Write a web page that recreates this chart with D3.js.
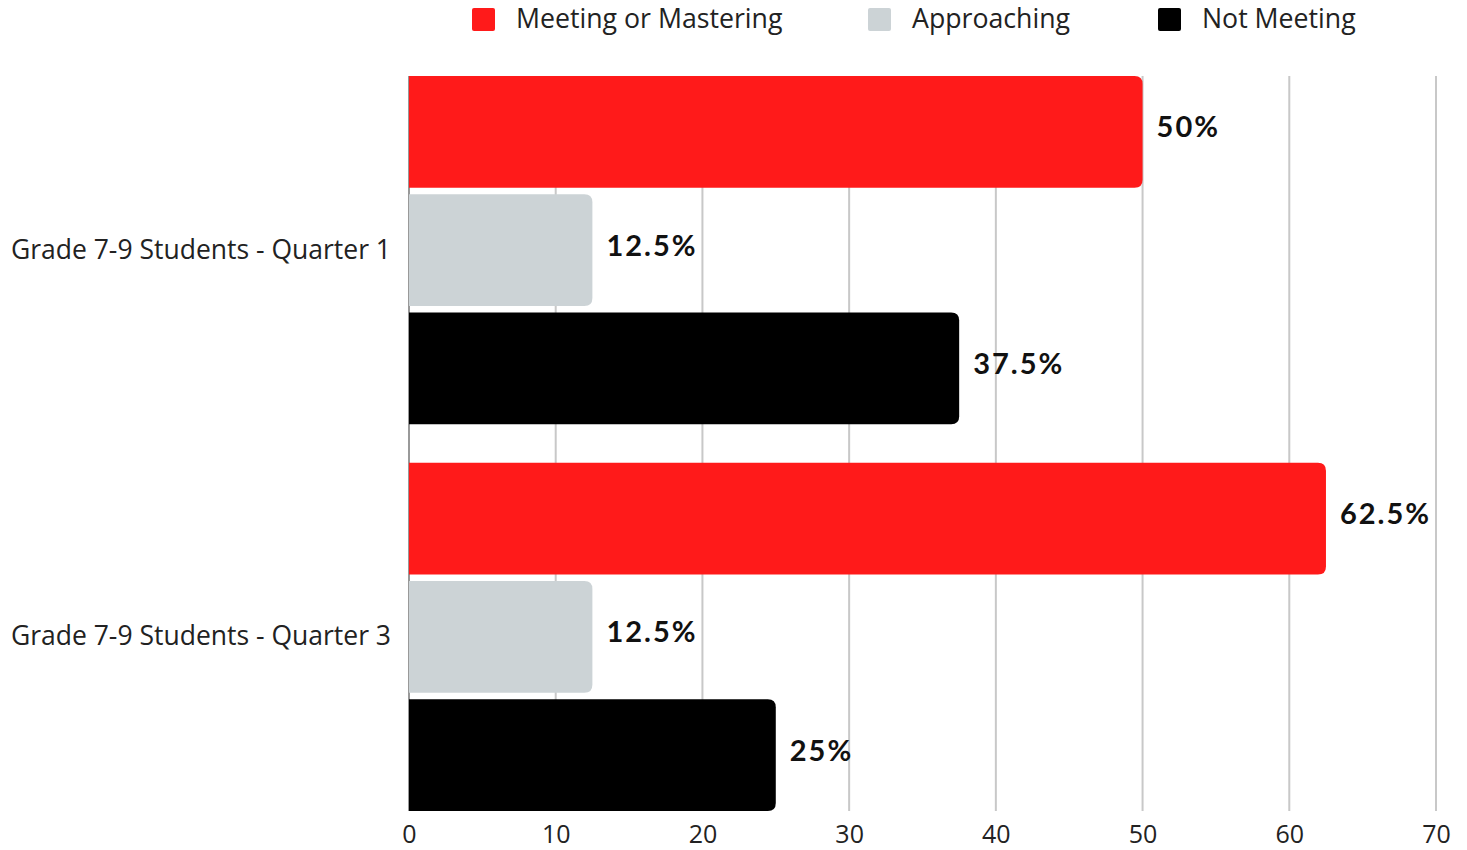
<!DOCTYPE html>
<html>
<head>
<meta charset="utf-8">
<script src="https://cdn.jsdelivr.net/npm/d3@7"></script>
<style>
  body { margin: 0; background: #fff; }
</style>
</head>
<body>
<div class="chart"></div>
<script>
var categories = ["Grade 7-9 Students - Quarter 1", "Grade 7-9 Students - Quarter 3"];
var seriesNames = ["Meeting or Mastering", "Approaching", "Not Meeting"];
var meeting = [50, 62.5];
var approaching = [12.5, 12.5];
var notMeeting = [37.5, 25];
var valueLabels = [["50%", "12.5%", "37.5%"], ["62.5%", "12.5%", "25%"]];
var xTicks = [0, 10, 20, 30, 40, 50, 60, 70];
var colors = ["#ff1a1a", "#ccd3d6", "#000000"];

var width = 1467, height = 850;
var margin = {top: 76, right: 31, bottom: 39, left: 409};
var innerW = width - margin.left - margin.right,
    innerH = height - margin.top - margin.bottom;

var svg = d3.select(".chart").append("svg")
    .attr("width", width).attr("height", height)
    .style("font-family", "'Open Sans', sans-serif");
var g = svg.append("g").attr("transform", "translate(" + margin.left + "," + margin.top + ")");

var x = d3.scaleLinear().domain([0, 70]).range([0, innerW]);
var y0 = d3.scaleBand().domain(categories).range([0, innerH]).paddingInner(0.1).paddingOuter(0);
var y1 = d3.scaleBand().domain(seriesNames).range([0, y0.bandwidth()]).paddingInner(0.055);

var data = categories.map(function(c, i) {
    return {category: c, terms: [
        {id: seriesNames[0], value: meeting[i], label: valueLabels[i][0]},
        {id: seriesNames[1], value: approaching[i], label: valueLabels[i][1]},
        {id: seriesNames[2], value: notMeeting[i], label: valueLabels[i][2]}
    ]};
});
var color = d3.scaleOrdinal().domain(seriesNames).range(colors);

// grid
g.append("g").selectAll("line").data(xTicks).enter().append("line")
    .attr("x1", function(d) { return x(d); }).attr("x2", function(d) { return x(d); })
    .attr("y1", 0).attr("y2", innerH)
    .attr("stroke", function(d) { return d === 0 ? "#999" : "#c8c8c8"; })
    .attr("stroke-width", 2);

// x axis labels
var xAxis = d3.axisBottom(x).tickValues(xTicks).tickSize(0).tickPadding(14);
g.append("g").attr("transform", "translate(0," + innerH + ")").call(xAxis)
    .call(function(s) { s.select(".domain").remove(); })
    .selectAll("text").style("font-size", "25px").style("font-family", "'Open Sans', sans-serif").attr("fill", "#222");

// y labels
var yAxis = d3.axisLeft(y0).tickSize(0).tickPadding(18);
g.append("g").call(yAxis)
    .call(function(s) { s.select(".domain").remove(); })
    .selectAll("text").style("font-size", "26.5px").style("font-family", "'Open Sans', sans-serif").attr("fill", "#222");

function barPath(w, h, r) {
    r = Math.min(r, w, h / 2);
    return "M0,0H" + (w - r) + "Q" + w + ",0 " + w + "," + r +
        "V" + (h - r) + "Q" + w + "," + h + " " + (w - r) + "," + h + "H0Z";
}

var slice = g.selectAll(".slice").data(data).enter().append("g")
    .attr("transform", function(d) { return "translate(0," + y0(d.category) + ")"; });

slice.selectAll("path").data(function(d) { return d.terms; }).enter().append("path")
    .attr("transform", function(d) { return "translate(0," + y1(d.id) + ")"; })
    .attr("d", function(d) { return barPath(x(d.value), y1.bandwidth(), 8); })
    .attr("fill", function(d) { return color(d.id); });

slice.selectAll("text.val").data(function(d) { return d.terms; }).enter().append("text")
    .attr("class", "val")
    .attr("x", function(d) { return x(d.value) + 14; })
    .attr("y", function(d) { return y1(d.id) + y1.bandwidth() / 2 - 5; })
    .attr("dy", "0.36em")
    .style("font-family", "Lato, sans-serif").style("font-weight", "bold")
    .style("font-size", "29px").style("letter-spacing", "2px")
    .attr("fill", "#111")
    .text(function(d) { return d.label; });

// legend
var legendX = [472, 868, 1158];
var legend = svg.append("g").selectAll("g").data(seriesNames).enter().append("g")
    .attr("transform", function(d, i) { return "translate(" + legendX[i] + ",8)"; });
legend.append("rect").attr("width", 23).attr("height", 23).attr("rx", 2)
    .attr("fill", function(d) { return color(d); });
legend.append("text").attr("x", 44).attr("y", 10.5).attr("dy", "0.35em")
    .style("font-size", "26.7px").attr("fill", "#222")
    .text(function(d) { return d; });
</script>
</body>
</html>
